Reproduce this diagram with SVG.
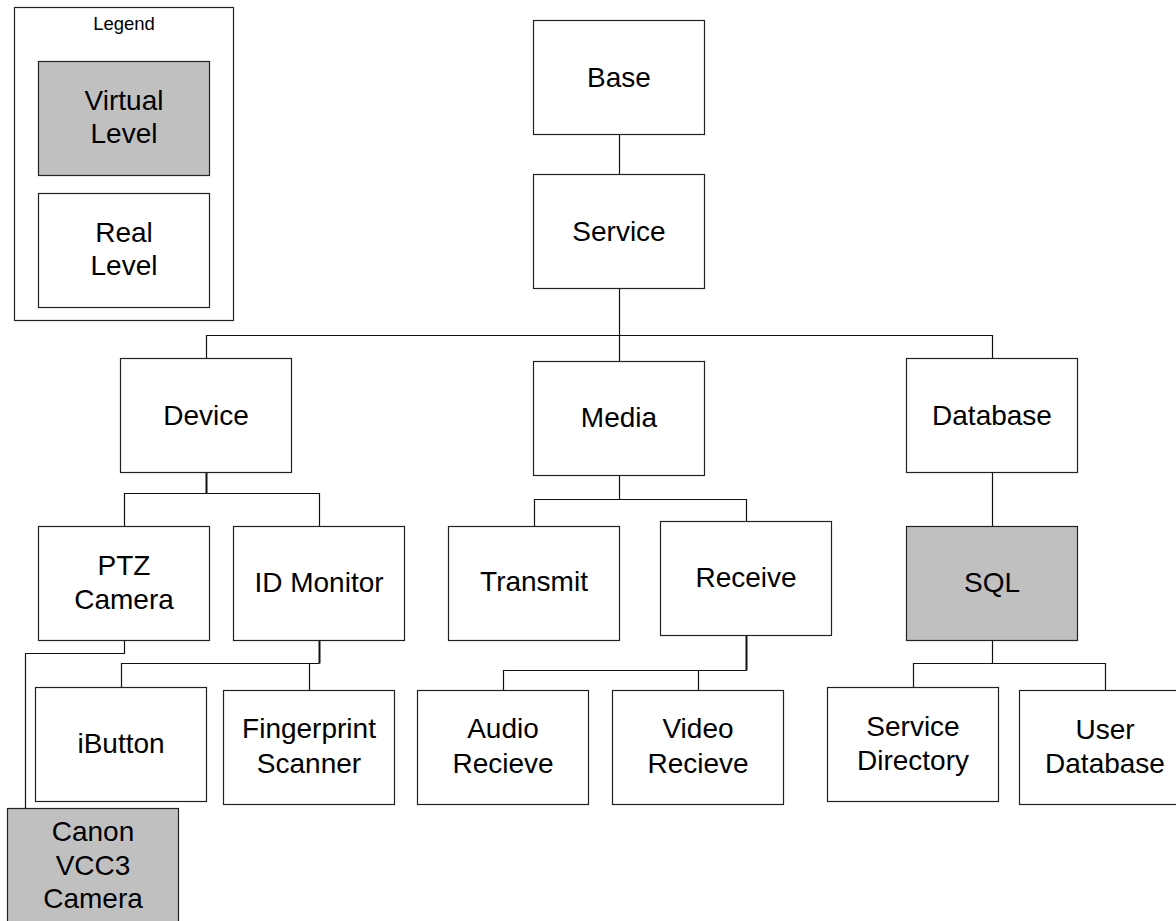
<svg xmlns="http://www.w3.org/2000/svg" width="1176" height="921" viewBox="0 0 1176 921">
<style>
  .box { fill: #ffffff; stroke: #222; stroke-width: 1.2; }
  .virt { fill: #c0c0c0; stroke: #222; stroke-width: 1.2; }
  .lbl { font-family: "Liberation Sans", Arial, sans-serif; font-size: 28px; fill: #000; text-anchor: middle; }
  .leg { font-family: "Liberation Sans", Arial, sans-serif; font-size: 18.5px; fill: #000; text-anchor: middle; }
  .conn path { fill: none; stroke: #111; stroke-width: 1.2; }
  .conn path.thick { stroke-width: 2; }
</style>
<rect x="0" y="0" width="1176" height="921" fill="#ffffff"/>
<g id="legend">
  <rect x="14.5" y="7.5" width="219" height="313" class="box"/>
  <text x="124" y="30" class="leg">Legend</text>
  <g id="legend-virtual">
    <rect x="38.5" y="61.5" width="171" height="114" class="virt"/>
    <text x="124" y="110" class="lbl">Virtual</text>
    <text x="124" y="143" class="lbl">Level</text>
  </g>
  <g id="legend-real">
    <rect x="38.5" y="193.5" width="171" height="114" class="box"/>
    <text x="124" y="242" class="lbl">Real</text>
    <text x="124" y="275" class="lbl">Level</text>
  </g>
</g>
<g id="connectors" class="conn">
  <path d="M619.5 134.5 V174.5"/>
  <path d="M619.5 288.5 V361.5"/>
  <path d="M206.5 358.5 V335.5 H992.5 V358.5"/>
  <path d="M206.5 472.5 V493.5" class="thick"/>
  <path d="M124.5 526.5 V493.5 H319.5 V526.5"/>
  <path d="M124.5 640.5 V653.5 H25.5 V808.5"/>
  <path d="M319.5 640.5 V663.5" class="thick"/>
  <path d="M121.5 687.5 V663.5 H319.5"/>
  <path d="M309.5 663.5 V690.5"/>
  <path d="M619.5 475.5 V499.5"/>
  <path d="M534.5 526.5 V499.5 H746.5 V521.5"/>
  <path d="M746.5 635.5 V670.5" class="thick"/>
  <path d="M503.5 690.5 V670.5 H746.5"/>
  <path d="M698.5 670.5 V690.5"/>
  <path d="M992.5 472.5 V526.5"/>
  <path d="M992.5 640.5 V663.5"/>
  <path d="M913.5 687.5 V663.5 H1105.5 V690.5"/>
</g>
<g id="base">
  <rect x="533.5" y="20.5" width="171" height="114" class="box"/>
  <text x="619" y="87" class="lbl">Base</text>
</g>
<g id="service">
  <rect x="533.5" y="174.5" width="171" height="114" class="box"/>
  <text x="619" y="241" class="lbl">Service</text>
</g>
<g id="device">
  <rect x="120.5" y="358.5" width="171" height="114" class="box"/>
  <text x="206" y="425" class="lbl">Device</text>
</g>
<g id="media">
  <rect x="533.5" y="361.5" width="171" height="114" class="box"/>
  <text x="619" y="427" class="lbl">Media</text>
</g>
<g id="database">
  <rect x="906.5" y="358.5" width="171" height="114" class="box"/>
  <text x="992" y="425" class="lbl">Database</text>
</g>
<g id="ptz-camera">
  <rect x="38.5" y="526.5" width="171" height="114" class="box"/>
  <text x="124" y="575" class="lbl">PTZ</text>
  <text x="124" y="609" class="lbl">Camera</text>
</g>
<g id="id-monitor">
  <rect x="233.5" y="526.5" width="171" height="114" class="box"/>
  <text x="319" y="592" class="lbl">ID Monitor</text>
</g>
<g id="transmit">
  <rect x="448.5" y="526.5" width="171" height="114" class="box"/>
  <text x="534" y="591" class="lbl">Transmit</text>
</g>
<g id="receive">
  <rect x="660.5" y="521.5" width="171" height="114" class="box"/>
  <text x="746" y="587" class="lbl">Receive</text>
</g>
<g id="sql">
  <rect x="906.5" y="526.5" width="171" height="114" class="virt"/>
  <text x="992" y="592" class="lbl">SQL</text>
</g>
<g id="ibutton">
  <rect x="35.5" y="687.5" width="171" height="114" class="box"/>
  <text x="121" y="753" class="lbl">iButton</text>
</g>
<g id="fingerprint-scanner">
  <rect x="223.5" y="690.5" width="171" height="114" class="box"/>
  <text x="309" y="738" class="lbl">Fingerprint</text>
  <text x="309" y="773" class="lbl">Scanner</text>
</g>
<g id="audio-recieve">
  <rect x="417.5" y="690.5" width="171" height="114" class="box"/>
  <text x="503" y="738" class="lbl">Audio</text>
  <text x="503" y="773" class="lbl">Recieve</text>
</g>
<g id="video-recieve">
  <rect x="612.5" y="690.5" width="171" height="114" class="box"/>
  <text x="698" y="738" class="lbl">Video</text>
  <text x="698" y="773" class="lbl">Recieve</text>
</g>
<g id="service-directory">
  <rect x="827.5" y="687.5" width="171" height="114" class="box"/>
  <text x="913" y="736" class="lbl">Service</text>
  <text x="913" y="770" class="lbl">Directory</text>
</g>
<g id="user-database">
  <rect x="1019.5" y="690.5" width="171" height="114" class="box"/>
  <text x="1105" y="739" class="lbl">User</text>
  <text x="1105" y="773" class="lbl">Database</text>
</g>
<g id="canon-vcc3-camera">
  <rect x="7.5" y="808.5" width="171" height="114" class="virt"/>
  <text x="93" y="841" class="lbl">Canon</text>
  <text x="93" y="875" class="lbl">VCC3</text>
  <text x="93" y="908" class="lbl">Camera</text>
</g>
</svg>
